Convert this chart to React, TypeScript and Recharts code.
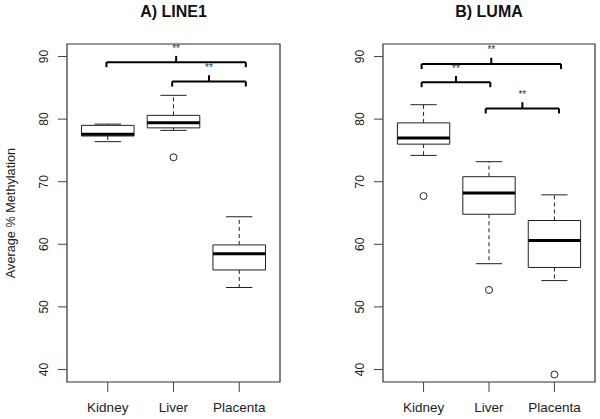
import {
  ComposedChart,
  XAxis,
  YAxis,
  ReferenceArea,
  ReferenceLine,
  Scatter,
} from "recharts";

const categories = ["Kidney", "Liver", "Placenta"];
const catPositions = [1, 2, 3];
const yTicks = [40, 50, 60, 70, 80, 90];

// A) LINE1
const line1Min = [76.4, 78.2, 53.1];
const line1Q1 = [77.3, 78.6, 55.9];
const line1Median = [77.6, 79.4, 58.5];
const line1Q3 = [79.0, 80.6, 59.9];
const line1Max = [79.2, 83.8, 64.4];
const line1OutlierCat = [2];
const line1OutlierValue = [73.9];
const line1BracketFrom = [0.98, 1.98];
const line1BracketTo = [3.1, 3.1];
const line1BracketY = [89.1, 86.0];

// B) LUMA
const lumaMin = [74.2, 56.9, 54.2];
const lumaQ1 = [76.0, 64.8, 56.3];
const lumaMedian = [77.0, 68.2, 60.6];
const lumaQ3 = [79.4, 70.8, 63.8];
const lumaMax = [82.3, 73.2, 67.9];
const lumaOutlierCat = [1, 2, 3];
const lumaOutlierValue = [67.7, 52.7, 39.2];
const lumaBracketFrom = [0.97, 0.97, 1.95];
const lumaBracketTo = [3.1, 2.02, 3.07];
const lumaBracketY = [88.8, 85.9, 81.7];

const X_DOMAIN = [0.38, 3.62];
const Y_DOMAIN = [38, 92];
const FONT = '"Liberation Sans", Arial, sans-serif';
const INK = "#222";

const YTick = (props: any) => {
  const { x, y, payload } = props;
  return (
    <text
      x={x}
      y={y}
      transform={`rotate(-90 ${x} ${y})`}
      textAnchor="middle"
      fontSize={12}
      fontFamily={FONT}
      fill={INK}
    >
      {payload.value}
    </text>
  );
};

interface PanelProps {
  min: number[];
  q1: number[];
  median: number[];
  q3: number[];
  max: number[];
  outCat: number[];
  outVal: number[];
  bFrom: number[];
  bTo: number[];
  bY: number[];
  marginLeft: number;
  marginRight: number;
  yLabel?: string;
}

function Panel(p: PanelProps) {
  const outliers = p.outCat.map((c, i) => ({ x: c, y: p.outVal[i] }));
  const stars = p.bFrom.map((f, i) => ({ x: (f + p.bTo[i]) / 2, y: p.bY[i] + 2.5 }));

  return (
    <ComposedChart
      width={300}
      height={419}
      margin={{ top: 44, right: p.marginRight, bottom: 7, left: p.marginLeft }}
    >
      <XAxis
        type="number"
        dataKey="x"
        domain={X_DOMAIN}
        ticks={catPositions}
        tickFormatter={(v: number) => categories[v - 1]}
        allowDataOverflow
        axisLine={false}
        tickSize={10}
        tickMargin={10}
        height={30}
        tick={{ fontSize: 13.5, fill: INK, fontFamily: FONT }}
        tickLine={{ stroke: "#444" }}
      />
      <YAxis
        type="number"
        dataKey="y"
        domain={Y_DOMAIN}
        ticks={yTicks}
        allowDataOverflow
        axisLine={false}
        width={30}
        tickSize={9}
        tickMargin={10}
        tick={<YTick />}
        tickLine={{ stroke: "#444" }}
        label={
          p.yLabel
            ? {
                value: p.yLabel,
                angle: -90,
                position: "insideLeft",
                offset: -27,
                style: { textAnchor: "middle", fontSize: 12.7, fill: INK, fontFamily: FONT },
              }
            : undefined
        }
      />

      {/* frame */}
      <ReferenceArea
        x1={X_DOMAIN[0]}
        x2={X_DOMAIN[1]}
        y1={Y_DOMAIN[0]}
        y2={Y_DOMAIN[1]}
        fill="none"
        stroke="#333"
        strokeWidth={1.2}
        ifOverflow="visible"
      />

      {/* boxes */}
      {catPositions.map((pos, i) => (
        <ReferenceArea
          key={`box${i}`}
          x1={pos - 0.4}
          x2={pos + 0.4}
          y1={p.q1[i]}
          y2={p.q3[i]}
          fill="none"
          stroke={INK}
          strokeWidth={1}
          ifOverflow="visible"
        />
      ))}
      {catPositions.map((pos, i) => (
        <ReferenceLine
          key={`wu${i}`}
          segment={[{ x: pos, y: p.q3[i] }, { x: pos, y: p.max[i] }]}
          stroke={INK}
          strokeDasharray="4 3"
          ifOverflow="visible"
        />
      ))}
      {catPositions.map((pos, i) => (
        <ReferenceLine
          key={`wl${i}`}
          segment={[{ x: pos, y: p.q1[i] }, { x: pos, y: p.min[i] }]}
          stroke={INK}
          strokeDasharray="4 3"
          ifOverflow="visible"
        />
      ))}
      {catPositions.map((pos, i) => (
        <ReferenceLine
          key={`cu${i}`}
          segment={[{ x: pos - 0.2, y: p.max[i] }, { x: pos + 0.2, y: p.max[i] }]}
          stroke={INK}
          ifOverflow="visible"
        />
      ))}
      {catPositions.map((pos, i) => (
        <ReferenceLine
          key={`cl${i}`}
          segment={[{ x: pos - 0.2, y: p.min[i] }, { x: pos + 0.2, y: p.min[i] }]}
          stroke={INK}
          ifOverflow="visible"
        />
      ))}
      {catPositions.map((pos, i) => (
        <ReferenceLine
          key={`md${i}`}
          segment={[{ x: pos - 0.4, y: p.median[i] }, { x: pos + 0.4, y: p.median[i] }]}
          stroke="#000"
          strokeWidth={3}
          ifOverflow="visible"
        />
      ))}

      {/* significance brackets */}
      {p.bFrom.map((f, i) => (
        <ReferenceLine
          key={`bh${i}`}
          segment={[{ x: f, y: p.bY[i] }, { x: p.bTo[i], y: p.bY[i] }]}
          stroke="#000"
          strokeWidth={2}
          ifOverflow="visible"
        />
      ))}
      {p.bFrom.map((f, i) => (
        <ReferenceLine
          key={`bl${i}`}
          segment={[{ x: f, y: p.bY[i] }, { x: f, y: p.bY[i] - 0.8 }]}
          stroke="#000"
          strokeWidth={2}
          ifOverflow="visible"
        />
      ))}
      {p.bTo.map((t, i) => (
        <ReferenceLine
          key={`br${i}`}
          segment={[{ x: t, y: p.bY[i] }, { x: t, y: p.bY[i] - 0.8 }]}
          stroke="#000"
          strokeWidth={2}
          ifOverflow="visible"
        />
      ))}
      {p.bFrom.map((f, i) => (
        <ReferenceLine
          key={`bm${i}`}
          segment={[
            { x: (f + p.bTo[i]) / 2, y: p.bY[i] },
            { x: (f + p.bTo[i]) / 2, y: p.bY[i] + 1 },
          ]}
          stroke="#000"
          strokeWidth={2}
          ifOverflow="visible"
        />
      ))}

      <Scatter
        data={outliers}
        isAnimationActive={false}
        shape={(s: any) => (
          <circle cx={s.cx} cy={s.cy} r={3.5} fill="none" stroke={INK} strokeWidth={1} />
        )}
      />
      <Scatter
        data={stars}
        isAnimationActive={false}
        fill="#333"
        shape={(s: any) => (
          <text
            x={s.cx}
            y={s.cy + 5}
            textAnchor="middle"
            fontSize={10}
            fontFamily={FONT}
            fill="#333"
            stroke="none"
          >
            **
          </text>
        )}
      />
    </ComposedChart>
  );
}

const titleStyle = {
  position: "absolute" as const,
  top: 0,
  height: 24,
  lineHeight: "24px",
  textAlign: "center" as const,
  fontFamily: FONT,
  fontWeight: "bold" as const,
  fontSize: 16,
  color: "#111",
};

export default function App() {
  return (
    <div
      style={{
        position: "absolute",
        left: 0,
        top: 0,
        width: 600,
        height: 419,
        background: "#fff",
      }}
    >
      <div style={{ position: "absolute", left: 0, top: 0 }}>
        <Panel
          min={line1Min}
          q1={line1Q1}
          median={line1Median}
          q3={line1Q3}
          max={line1Max}
          outCat={line1OutlierCat}
          outVal={line1OutlierValue}
          bFrom={line1BracketFrom}
          bTo={line1BracketTo}
          bY={line1BracketY}
          marginLeft={37}
          marginRight={20}
          yLabel="Average % Methylation"
        />
      </div>
      <div style={{ position: "absolute", left: 300, top: 0 }}>
        <Panel
          min={lumaMin}
          q1={lumaQ1}
          median={lumaMedian}
          q3={lumaQ3}
          max={lumaMax}
          outCat={lumaOutlierCat}
          outVal={lumaOutlierValue}
          bFrom={lumaBracketFrom}
          bTo={lumaBracketTo}
          bY={lumaBracketY}
          marginLeft={53}
          marginRight={5}
        />
      </div>
      <div style={{ ...titleStyle, left: 67, width: 213 }}>A) LINE1</div>
      <div style={{ ...titleStyle, left: 383, width: 212 }}>B) LUMA</div>
    </div>
  );
}
